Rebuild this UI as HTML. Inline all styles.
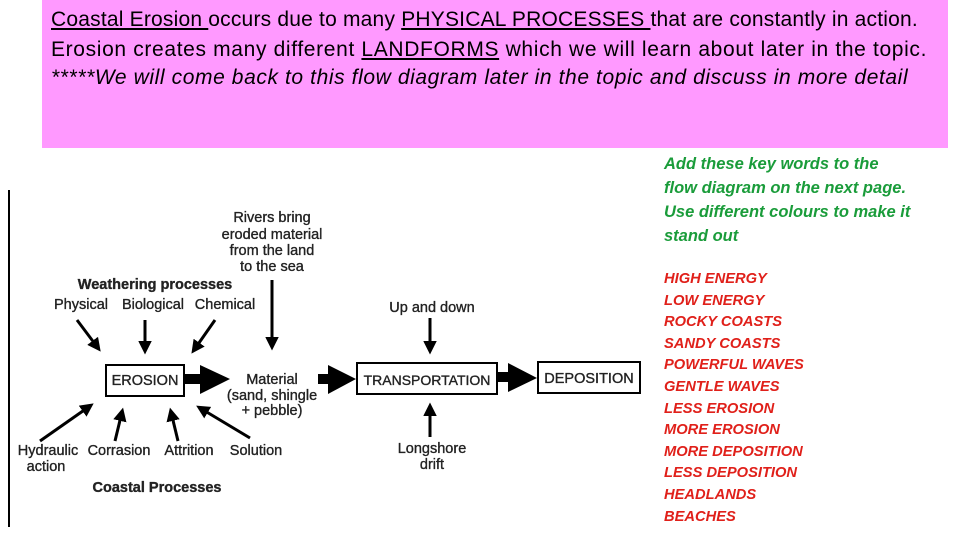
<!DOCTYPE html>
<html><head><meta charset="utf-8"><style>
body{margin:0;width:960px;height:540px;background:#fff;position:relative;overflow:hidden;font-family:"Liberation Sans",sans-serif}
.pink{position:absolute;left:42px;top:0;width:906px;height:148px;background:#ff99ff}
.pink div{position:absolute;left:9px;font-size:21px;color:#000;white-space:nowrap}
.g{position:absolute;left:664px;top:152px;color:#1a9c3a;font-weight:bold;font-style:italic;font-size:16.5px;line-height:24px}
.r{position:absolute;left:664px;top:269px;color:#e0201a;font-weight:bold;font-style:italic;font-size:14.7px;line-height:21.6px}
</style></head><body>
<div class="pink">
<div style="top:8px;letter-spacing:0.2px"><u>Coastal Erosion </u>occurs due to many <u>PHYSICAL PROCESSES </u>that are constantly in action.</div>
<div style="top:38px;letter-spacing:0.65px"><span>Erosion creates many different <u>LANDFORMS</u> which we will learn about later in the topic.</span></div>
<div style="top:66px;font-style:italic;letter-spacing:0.6px">*****We will come back to this flow diagram later in the topic and discuss in more detail</div>
</div>
<div class="g">Add these key words to the<br>flow diagram on the next page.<br>Use different colours to make it<br>stand out</div>
<div class="r">HIGH ENERGY<br>LOW ENERGY<br>ROCKY COASTS<br>SANDY COASTS<br>POWERFUL WAVES<br>GENTLE WAVES<br>LESS EROSION<br>MORE EROSION<br>MORE DEPOSITION<br>LESS DEPOSITION<br>HEADLANDS<br>BEACHES</div>
<svg width="960" height="540" style="position:absolute;left:0;top:0" font-family="Liberation Sans, sans-serif" font-size="14.5" fill="#222" stroke="#222" stroke-width="0.35">
<defs><marker id="a" markerWidth="4.5" markerHeight="4.5" refX="3" refY="2.25" orient="auto"><path d="M0,0L4.5,2.25L0,4.5z" fill="#000" stroke="none"/></marker></defs>
<line x1="9" y1="190" x2="9" y2="527" stroke="#000" stroke-width="2"/>
<g text-anchor="middle">
<text x="272" y="222">Rivers bring</text><text x="272" y="239">eroded material</text><text x="272" y="255">from the land</text><text x="272" y="271">to the sea</text>
<text x="155" y="289" font-weight="bold" font-size="14.5">Weathering processes</text>
<text x="81" y="309">Physical</text><text x="153" y="309">Biological</text><text x="225" y="309">Chemical</text>
<text x="145" y="385">EROSION</text>
<text x="272" y="384">Material</text><text x="272" y="400">(sand, shingle</text><text x="272" y="415">+ pebble)</text>
<text x="427" y="385" font-size="14">TRANSPORTATION</text>
<text x="589" y="383">DEPOSITION</text>
<text x="432" y="312">Up and down</text>
<text x="432" y="453">Longshore</text><text x="432" y="469">drift</text>
<text x="48" y="455">Hydraulic</text><text x="119" y="455">Corrasion</text><text x="189" y="455">Attrition</text><text x="256" y="455">Solution</text>
<text x="46" y="471">action</text>
<text x="157" y="492" font-weight="bold" font-size="14.5">Coastal Processes</text>
</g>
<g fill="none" stroke="#000" stroke-width="2">
<rect x="106" y="365" width="78" height="31"/>
<rect x="357" y="363" width="140" height="31"/>
<rect x="538" y="362" width="102" height="31"/>
</g>
<g stroke="#000" stroke-width="3" marker-end="url(#a)">
<line x1="77" y1="320" x2="98" y2="348"/>
<line x1="145" y1="320" x2="145" y2="350"/>
<line x1="215" y1="320" x2="194" y2="350"/>
<line x1="272" y1="280" x2="272" y2="346"/>
<line x1="40" y1="441" x2="90" y2="406"/>
<line x1="115" y1="441" x2="122" y2="412"/>
<line x1="178" y1="441" x2="171" y2="412"/>
<line x1="250" y1="438" x2="200" y2="408"/>
<line x1="430" y1="318" x2="430" y2="350"/>
<line x1="430" y1="437" x2="430" y2="407"/>
</g>
<g fill="#000" stroke="none">
<rect x="185" y="374" width="18" height="10"/><path d="M200,365L230,379L200,394z"/>
<rect x="318" y="374" width="14" height="10"/><path d="M328,365L356,379L328,394z"/>
<rect x="498" y="372" width="14" height="10"/><path d="M508,363L537,378L508,392z"/>
</g>
</svg>
</body></html>
